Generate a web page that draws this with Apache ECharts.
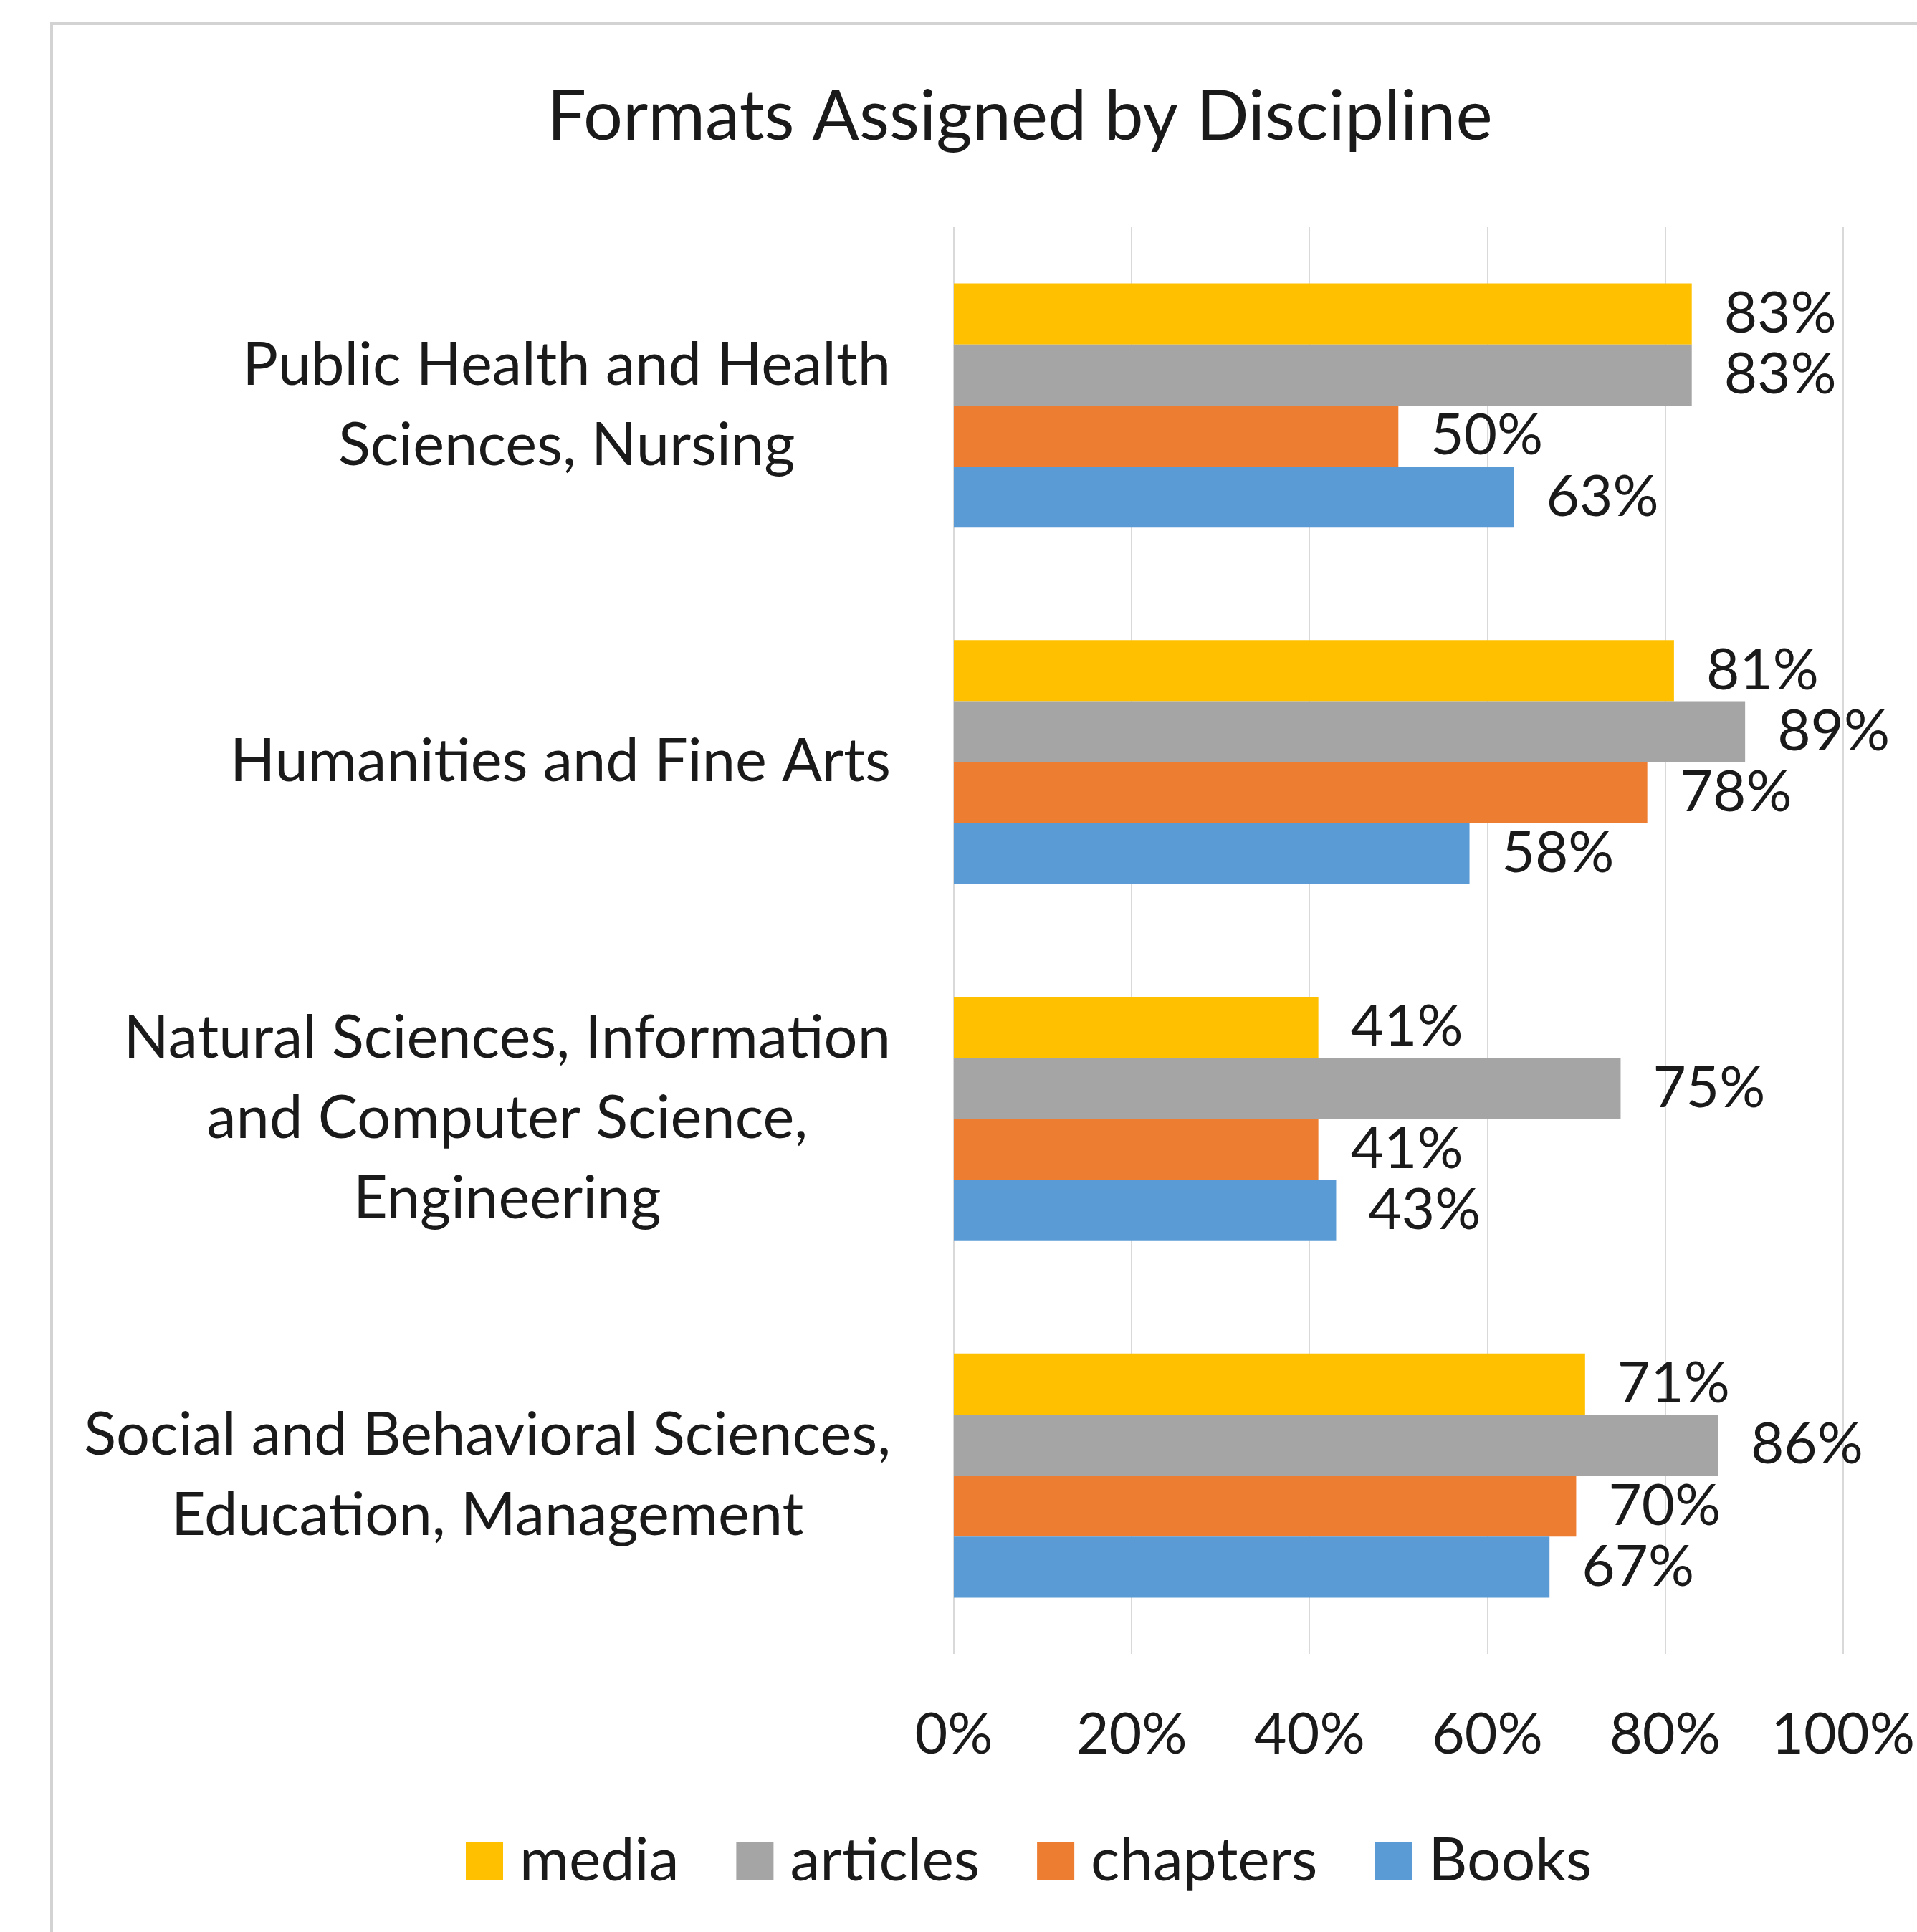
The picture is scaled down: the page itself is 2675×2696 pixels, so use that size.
<!DOCTYPE html>
<html>
<head>
<meta charset="utf-8">
<script src="https://cdn.jsdelivr.net/npm/echarts@6/dist/echarts.min.js"></script>
<style>
html,body{margin:0;padding:0;background:#fff;}
#chart{width:2675px;height:2696px;}
</style>
</head>
<body>
<div id="chart"></div>
<script>
const categories = [
  "Public Health and Health\nSciences, Nursing",
  "Humanities and Fine Arts",
  "Natural Sciences, Information\nand Computer Science,\nEngineering",
  "Social and Behavioral Sciences,\nEducation, Management"
];
const seriesNames = ["media", "articles", "chapters", "Books"];
const media = [83, 81, 41, 71];
const articles = [83, 89, 75, 86];
const chapters = [50, 78, 41, 70];
const books = [63, 58, 43, 67];
const xTicks = [0, 20, 40, 60, 80, 100];

const colors = ["#FFC000", "#A5A5A5", "#ED7D31", "#5B9BD5"];
const FONT = "Lato";
const TXT = "#1a1a1a";

const values = [media, articles, chapters, books];
const chart = echarts.init(document.getElementById('chart'), null, {renderer: 'canvas'});

const series = seriesNames.map((name, i) => ({
  name: name,
  type: 'bar',
  data: values[i],
  barGap: '0%',
  barCategoryGap: '31.5%',
  itemStyle: {color: colors[i]},
  label: {
    show: true,
    position: 'right',
    distance: 45,
    formatter: '{c}%',
    fontFamily: FONT,
    fontSize: 80,
    color: TXT
  }
}));

chart.setOption({
  animation: false,
  backgroundColor: '#ffffff',
  graphic: [{
    type: 'rect',
    silent: true,
    shape: {x: 72, y: 33, width: 2800, height: 2800},
    style: {fill: 'none', stroke: '#d3d3d3', lineWidth: 4}
  }],
  title: {
    text: 'Formats Assigned by Discipline',
    left: 1418,
    top: 110,
    textAlign: 'center',
    textStyle: {fontFamily: FONT, fontSize: 97, fontWeight: 'normal', color: TXT}
  },
  legend: {
    data: seriesNames,
    bottom: 52,
    left: 645,
    orient: 'horizontal',
    itemWidth: 52,
    itemHeight: 52,
    itemGap: 80,
    icon: 'rect',
    textStyle: {fontFamily: FONT, fontSize: 84, color: TXT, padding: [0, 0, 0, 18]}
  },
  grid: {left: 1331, right: 98, top: 317, bottom: 388, containLabel: false},
  xAxis: {
    type: 'value',
    min: xTicks[0],
    max: xTicks[xTicks.length - 1],
    interval: xTicks[1] - xTicks[0],
    axisLine: {show: false},
    axisTick: {show: false},
    splitLine: {show: true, lineStyle: {color: '#d9d9d9', width: 2}},
    axisLabel: {formatter: '{value}%', fontFamily: FONT, fontSize: 79, color: TXT, margin: 74}
  },
  yAxis: {
    type: 'category',
    data: categories,
    inverse: true,
    axisLine: {show: false},
    axisTick: {show: false},
    splitLine: {show: false},
    axisLabel: {
      margin: 88,
      fontFamily: FONT,
      fontSize: 83,
      color: TXT,
      lineHeight: 112,
      formatter: function (v) {
        return v.split('\n').map(l => '{c|' + l + '}').join('\n');
      },
      rich: {c: {align: 'center', fontFamily: FONT, fontSize: 83, color: TXT, lineHeight: 112}}
    }
  },
  series: series
});
</script>
</body>
</html>
